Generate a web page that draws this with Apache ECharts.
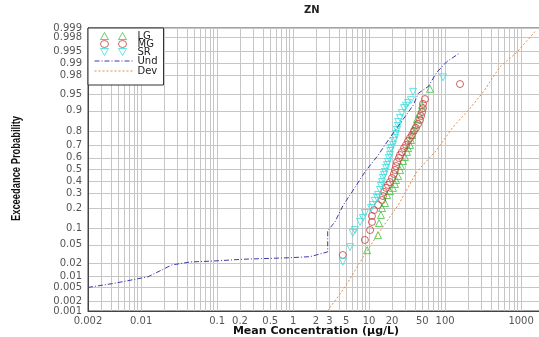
<!DOCTYPE html>
<html><head><meta charset="utf-8">
<script src="https://cdn.jsdelivr.net/npm/echarts@6/dist/echarts.min.js"></script>
<style>html,body{margin:0;padding:0;background:#fff}#chart{width:539px;height:337px}</style>
</head><body><div id="chart"></div>
<script>
// Probability tick labels (exceedance probability axis), split over two label rows
const probTicksA = [0.001,0.005,0.02,0.1,0.3,0.5,0.7,0.9,0.98,0.995,0.999];
const probTicksB = [0.002,0.01,0.05,0.2,0.4,0.6,0.8,0.95,0.99,0.998];
// Concentration tick labels (µg/L)
const concLabels = [0.002,0.01,0.1,0.2,0.5,1,2,3,5,10,20,50,100,1000];
const concMin = 0.002, concMax = 2000;

// LG samples
const lgConc = [9.4,13.1,13.5,14.3,14.8,16.2,17.2,18.8,20.6,21.9,22.6,24,25.5,26.2,27.9,29.6,31.5,32.5,34.5,35.5,36.7,37.8,40.2,42.7,45.4,49.6,63.2];
const lgProb = [0.039,0.076,0.121,0.16,0.2,0.232,0.289,0.319,0.344,0.376,0.409,0.444,0.496,0.53,0.574,0.608,0.65,0.68,0.704,0.74,0.774,0.806,0.834,0.865,0.887,0.92,0.961];
// MG samples
const mgConc = [4.5,8.8,10.3,10.9,10.9,11.6,13.1,14.8,15.2,15.7,16.7,17.7,18.8,20,21.2,21.9,22.6,23.3,24.7,25.5,27,28.8,30.6,32.5,34.5,36.6,38.9,41.4,44,46.7,48.2,49.7,51.2,51.2,54.3,157];
const mgProb = [0.031,0.062,0.093,0.126,0.155,0.188,0.219,0.253,0.281,0.312,0.344,0.368,0.392,0.426,0.461,0.496,0.53,0.565,0.599,0.624,0.649,0.68,0.704,0.733,0.754,0.774,0.8,0.818,0.84,0.86,0.879,0.895,0.91,0.924,0.938,0.969];
// SR samples
const srConc = [4.5,5.6,6.1,6.5,7.6,8.3,8.8,10.6,11.2,11.9,12.7,13.1,13.9,14.3,14.8,15.2,15.7,16.2,16.7,17.2,17.7,18.2,18.8,19,19.4,20.6,21.2,21.9,22.6,23.3,24,24.2,25.5,27,28.8,30.6,32.5,35.5,37.8,93.8];
const srProb = [0.022,0.045,0.083,0.093,0.126,0.145,0.171,0.2,0.219,0.246,0.267,0.289,0.327,0.359,0.392,0.426,0.452,0.478,0.513,0.539,0.565,0.599,0.624,0.657,0.68,0.704,0.733,0.754,0.781,0.806,0.829,0.85,0.87,0.891,0.91,0.918,0.927,0.935,0.955,0.978];
// Und curve
const undConc = [0.002,0.0045,0.0124,0.0252,0.044,0.089,0.22,0.91,1.67,2.85,2.85,3.56,4.57,6.19,8.83,13.2,17.9,23.1,29.7,38.1,44.4,60,77.5,105,157];
const undProb = [0.005,0.0065,0.0096,0.0185,0.0217,0.0228,0.025,0.027,0.0285,0.036,0.09,0.127,0.219,0.327,0.48,0.624,0.74,0.816,0.876,0.92,0.952,0.965,0.983,0.9907,0.9946];
// Dev curve
const devConc = [2.82,4.36,5.6,8.4,13.2,24.2,42.3,77.5,128,212,318,527,875,1524];
const devProb = [0.001,0.0038,0.0084,0.0285,0.082,0.219,0.48,0.665,0.825,0.909,0.955,0.9876,0.9947,0.9987];

// Inverse standard normal CDF (Acklam)
function probit(p){
  const a=[-3.969683028665376e+01,2.209460984245205e+02,-2.759285104469687e+02,1.383577518672690e+02,-3.066479806614716e+01,2.506628277459239e+00];
  const b=[-5.447609879822406e+01,1.615858368580409e+02,-1.556989798598866e+02,6.680131188771972e+01,-1.328068155288572e+01];
  const c=[-7.784894002430293e-03,-3.223964580411365e-01,-2.400758277161838e+00,-2.549732539343734e+00,4.374664141464968e+00,2.938163982698783e+00];
  const d=[7.784695709041462e-03,3.224671290700398e-01,2.445134137142996e+00,3.754408661907416e+00];
  const pl=0.02425;
  let q,r;
  if(p<pl){q=Math.sqrt(-2*Math.log(p));return (((((c[0]*q+c[1])*q+c[2])*q+c[3])*q+c[4])*q+c[5])/((((d[0]*q+d[1])*q+d[2])*q+d[3])*q+1);}
  if(p>1-pl){q=Math.sqrt(-2*Math.log(1-p));return -(((((c[0]*q+c[1])*q+c[2])*q+c[3])*q+c[4])*q+c[5])/((((d[0]*q+d[1])*q+d[2])*q+d[3])*q+1);}
  q=p-0.5;r=q*q;
  return (((((a[0]*r+a[1])*r+a[2])*r+a[3])*r+a[4])*r+a[5])*q/(((((b[0]*r+b[1])*r+b[2])*r+b[3])*r+b[4])*r+1);
}
const lg10 = Math.log10;
function pairs(xs, ps){ return xs.map((x,i)=>[lg10(x), probit(ps[i])]); }

// vertical grid: every 1..9 multiple per decade
const concGrid = [];
for (let e=-3; e<=3; e++) for (let m=1; m<=9; m++) {
  const v = +(m*Math.pow(10,e)).toPrecision(3);
  if (v>=concMin && v<=concMax) concGrid.push(v);
}

const probAll = probTicksA.concat(probTicksB);
const zA = probTicksA.map(probit), zB = probTicksB.map(probit), zAll = probAll.map(probit);
const zMin = probit(0.001), zMax = probit(0.999);
const xLabelVals = concLabels.map(lg10);
const EPS = 1e-7;
function nearestLabel(vals, labels, v){
  let best=0; for(let i=1;i<vals.length;i++) if(Math.abs(vals[i]-v)<Math.abs(vals[best]-v)) best=i;
  return String(labels[best]);
}

const tickFont = {fontFamily:'DejaVu Sans', fontSize:10, color:'#555'};
const gridColor = '#c6c6c6';
const axisColor = '#444';

const LG_C='#3fc63f', MG_C='#c83c3c', SR_C='#3fdcdc', UND_C='#3c3ca8', DEV_C='#e38c4c';

function scatter(name, xs, ps, color, rot, sym){
  return {name, type:'scatter', data:pairs(xs,ps), symbol:sym, symbolSize:7, symbolRotate:rot,
    itemStyle:{color:'rgba(0,0,0,0)', borderColor:color, borderWidth:1}, silent:true, z:3};
}

const triIcon = 'path://M0,0M6,7L10,0L14,7ZM24,7L28,0L32,7ZM38,7';
const dTriIcon = 'path://M0,0M6,0L14,0L10,7ZM24,0L32,0L28,7ZM38,7';
const circIcon = 'path://M0,0M14,3.5A4,3.5,0,1,1,6,3.5A4,3.5,0,1,1,14,3.5ZM32,3.5A4,3.5,0,1,1,24,3.5A4,3.5,0,1,1,32,3.5ZM38,7';
const lineIcon = 'path://M0,0M0,3.5L38,3.5M38,7';
const hollow = c => ({color:'rgba(0,0,0,0)', borderColor:c, borderWidth:1});

function probAxis(zLabels, main){
  return {type:'value', min:zMin-EPS, max:zMax+EPS, position:'left',
    axisLine:{show:main, onZero:false, lineStyle:{color:axisColor}},
    axisTick:{show:false, customValues: main ? zAll : zLabels},
    axisLabel:{...tickFont, margin:6, customValues:zLabels, showMinLabel:true, showMaxLabel:true,
      formatter:v=>nearestLabel(zAll, probAll, v)},
    splitLine:{show:main, lineStyle:{color:gridColor, width:1}}};
}

const chart = echarts.init(document.getElementById('chart'), null, {renderer:'canvas'});
chart.setOption({
  animation:false,
  backgroundColor:'#fff',
  title:{text:'ZN', left:299, top:0,
    textStyle:{fontFamily:'DejaVu Sans', fontWeight:'bold', fontSize:10, color:'#222'}},
  grid:{left:88, right:-5, top:28, bottom:26, show:true, borderColor:axisColor, borderWidth:1,
    containLabel:false, outerBoundsMode:'none'},
  legend:{orient:'vertical', left:88, top:28, itemWidth:38, itemHeight:7, itemGap:-2,
    padding:[3,6,8,4], backgroundColor:'#fff', borderColor:'#333', borderWidth:1, borderRadius:0,
    textStyle:{fontFamily:'DejaVu Sans', fontSize:10, color:'#222'},
    data:[
      {name:'LG', icon:triIcon, itemStyle:hollow(LG_C)},
      {name:'MG', icon:circIcon, itemStyle:hollow(MG_C)},
      {name:'SR', icon:dTriIcon, itemStyle:hollow(SR_C)},
      {name:'Und', icon:lineIcon, itemStyle:{color:'none', borderColor:UND_C, borderWidth:1, borderType:[5,2,1,2]}},
      {name:'Dev', icon:lineIcon, itemStyle:{color:'none', borderColor:DEV_C, borderWidth:1, borderType:[2,2]}}
    ]},
  graphic:[{type:'text', left:10, top:'middle', rotation:Math.PI/2, scaleX:0.72,
    style:{text:'Exceedance Probability', font:'bold 13px "Liberation Sans"', fill:'#111'}}],
  xAxis:{type:'value', min:lg10(concMin)-EPS, max:lg10(concMax),
    name:'Mean Concentration (µg/L)', nameLocation:'middle', nameGap:15, nameMoveOverlap:false,
    nameTextStyle:{fontFamily:'DejaVu Sans', fontWeight:'bold', fontSize:11, color:'#111',
      verticalAlign:'top'},
    axisLine:{show:true, onZero:false, lineStyle:{color:axisColor}},
    axisTick:{show:false, customValues:concGrid.map(lg10)},
    axisLabel:{...tickFont, margin:5, customValues:xLabelVals, showMinLabel:true, showMaxLabel:true,
      formatter:v=>nearestLabel(xLabelVals, concLabels, v)},
    splitLine:{show:true, lineStyle:{color:gridColor, width:1}}},
  yAxis:[probAxis(zA, true), probAxis(zB, false)],
  series:[
    scatter('LG', lgConc, lgProb, LG_C, 0, 'triangle'),
    scatter('MG', mgConc, mgProb, MG_C, 0, 'circle'),
    scatter('SR', srConc, srProb, SR_C, 180, 'triangle'),
    {name:'Und', type:'line', data:pairs(undConc, undProb), symbol:'none', silent:true, z:4,
      lineStyle:{color:UND_C, width:1, type:[5,2,1,2]}},
    {name:'Dev', type:'line', data:pairs(devConc, devProb), symbol:'none', silent:true, z:4,
      lineStyle:{color:DEV_C, width:1, type:[2,2]}}
  ]
});
</script></body></html>
